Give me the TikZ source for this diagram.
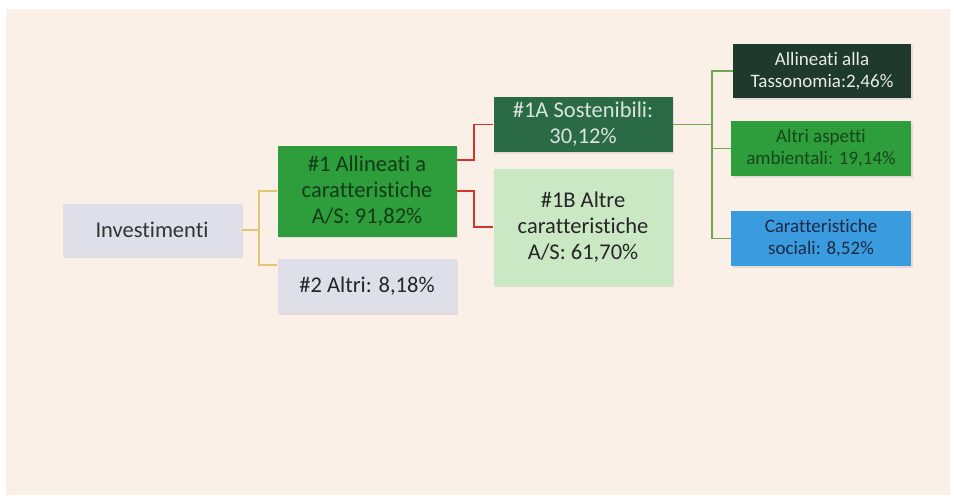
\documentclass[tikz,border=0pt]{standalone}
\usepackage{fontspec}
\setmainfont[Ligatures=CommonOff]{Carlito}
\usepackage{xcolor}
\usetikzlibrary{positioning, shadows, calc}

\definecolor{paper}{HTML}{FBF0E7}
\definecolor{greybox}{HTML}{DEDFE8}
\definecolor{midgreen}{HTML}{2E9E3C}
\definecolor{darkgreen}{HTML}{2A6B45}
\definecolor{palegreen}{HTML}{C9E8C3}
\definecolor{nightgreen}{HTML}{1F3A2C}
\definecolor{skyblue}{HTML}{3A9BDF}
\definecolor{navytext}{HTML}{1C2A44}
\definecolor{khaki}{HTML}{E2C56E}
\definecolor{linkred}{HTML}{D8332B}
\definecolor{linkgreen}{HTML}{6FA84E}

\tikzset{
  box/.style={rectangle, minimum width=179pt, align=center, inner sep=2pt,
    drop shadow={shadow xshift=1.5pt, shadow yshift=-1.5pt, opacity=0.18}},
  bigtext/.style={font=\fontsize{22.5}{26}\selectfont},
  smalltext/.style={font=\fontsize{19}{22}\selectfont},
  branch/.style={line width=1.4pt}
}

\begin{document}
\begin{tikzpicture}[x=1pt,y=-1pt]
    % page
    \fill[white] (0,0) rectangle (954,499);
    \fill[paper] (6,9) rectangle (950,495);
    \useasboundingbox (0,0) rectangle (954,499);

    % first level
    \node[box, bigtext, fill=greybox, text=black!80, minimum height=53pt]
      (inv) at (152,230) {Investimenti};

    % second level
    \node[box, bigtext, fill=midgreen, text=black!62!midgreen, minimum height=91pt]
      (allin) at (367,191) {\#1 Allineati a\\caratteristiche\\A/S: 91,82\%};
    \node[box, bigtext, fill=greybox, text=black!85, minimum height=54pt]
      (altri) at (367,286) {\#2 Altri: 8,18\%};

    % third level
    \node[box, bigtext, fill=darkgreen, text=white!82!darkgreen, minimum height=55pt]
      (sost) at (583,124.5) {\#1A Sostenibili:\\30,12\%};
    \node[box, bigtext, fill=palegreen, text=black!85, minimum height=117pt]
      (altre) at (583,227) {\#1B Altre\\caratteristiche\\A/S: 61,70\%};

    % fourth level
    \node[box, smalltext, fill=nightgreen, text=white!90!nightgreen, minimum width=178pt, minimum height=54pt]
      (tass) at (822,71) {Allineati alla\\Tassonomia:2,46\%};
    \node[box, smalltext, fill=midgreen, text=black!55!midgreen, minimum width=180pt, minimum height=55pt]
      (amb) at (821,148.5) {Altri aspetti\\ambientali: 19,14\%};
    \node[box, smalltext, fill=skyblue, text=navytext, minimum width=180pt, minimum height=55pt]
      (soc) at (821,238.5) {Caratteristiche\\sociali: 8,52\%};

    % junctions
    \coordinate (j1) at (259,230);
    \coordinate (j2) at (474,160);
    \coordinate (j3) at (474,191);
    \coordinate (j4) at (712,124.5);

    % connectors
    \draw[branch, khaki] (inv.east) -- (j1) |- (allin.west);
    \draw[branch, khaki] (j1) |- ($(altri.north west)+(0,6)$);
    \draw[branch, linkred] (allin.east |- j2) -- (j2) |- (sost.west);
    \draw[branch, linkred] (allin.east) -- (j3) |- (altre.west);
    \draw[branch, linkgreen] (sost.east) -- (j4);
    \draw[branch, linkgreen] (j4) |- (tass.west);
    \draw[branch, linkgreen] (j4) |- (amb.west);
    \draw[branch, linkgreen] (j4) |- (soc.west);
\end{tikzpicture}
\end{document}
